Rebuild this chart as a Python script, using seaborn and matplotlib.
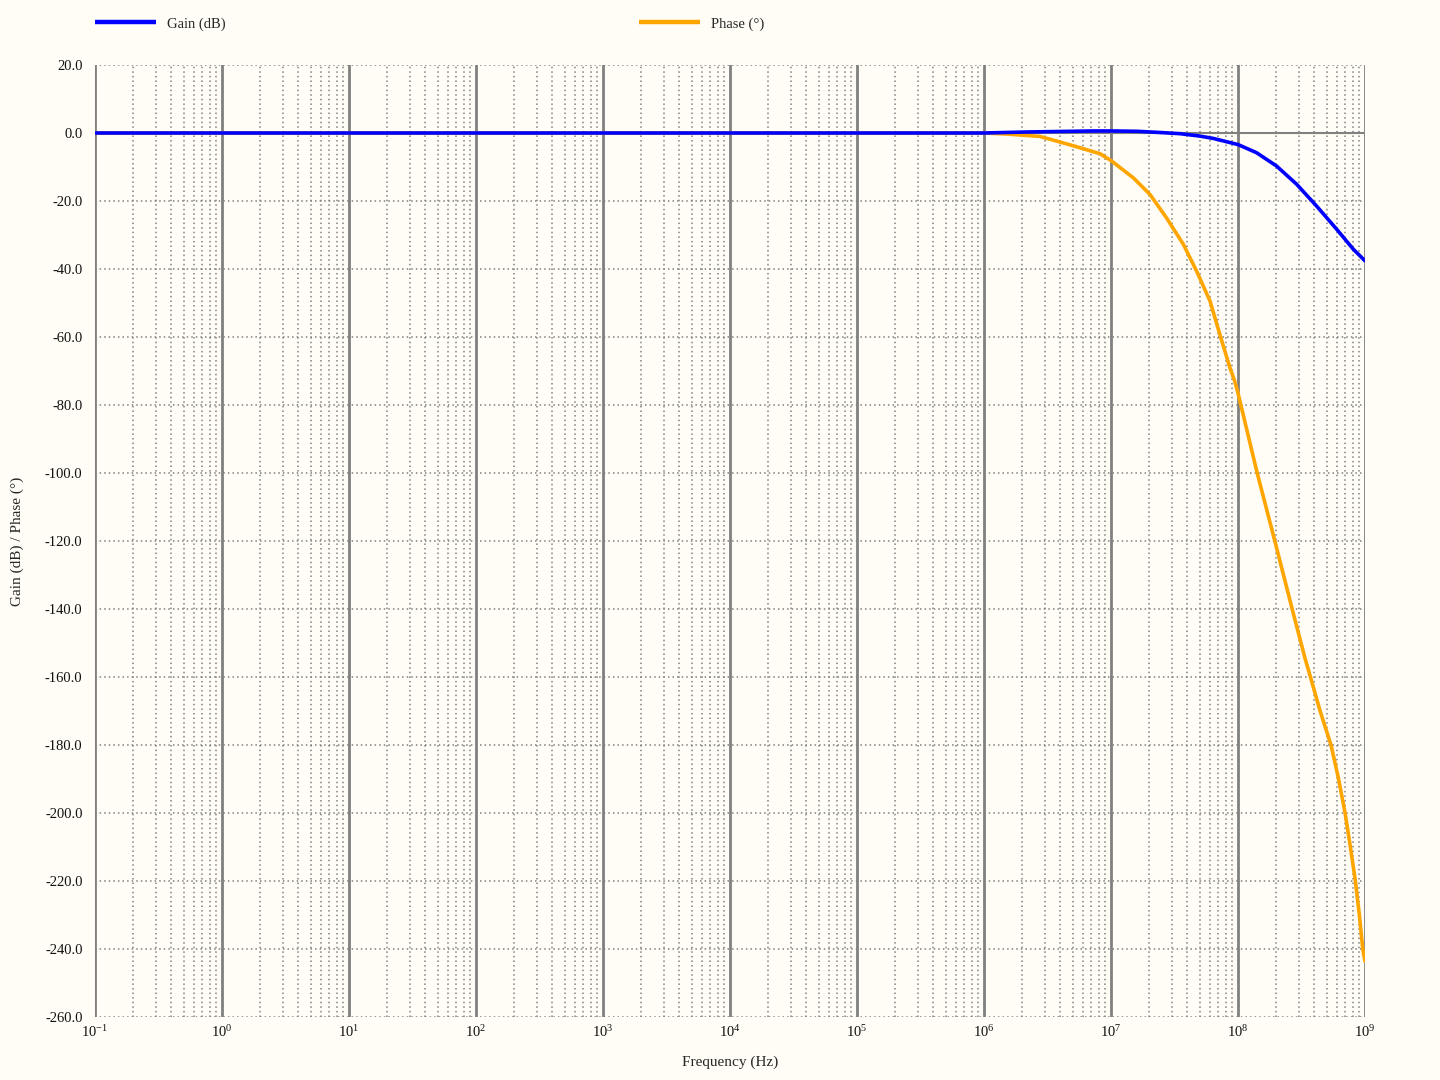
import numpy as np
import pandas as pd
import matplotlib
matplotlib.use("Agg")
import matplotlib.pyplot as plt
import seaborn as sns
from matplotlib.ticker import (LogLocator, LogFormatterSciNotation, FuncFormatter,
                               MultipleLocator, NullFormatter, FixedLocator)

# Data (frequency in Hz)
gain_freq = [0.1, 1e6, 2.2e6, 7.2e6, 1e7, 1.6e7, 2.3e7, 3.5e7, 5e7, 6.4e7,
             1e8, 1.4e8, 2.01e8, 2.9e8, 4.16e8, 5.98e8, 8.1e8, 1e9]
gain_db = [0.0, 0.0, 0.3, 0.6, 0.6, 0.5, 0.2, -0.2, -0.9, -1.6,
           -3.4, -5.8, -9.7, -15.1, -21.5, -28.3, -34.2, -37.6]

phase_freq = [0.1, 1e6, 1.5e6, 2.75e6, 5.1e6, 8.2e6, 1e7, 1.5e7, 2.03e7, 2.74e7,
              3.72e7, 4.73e7, 6.03e7, 7.2e7, 8.65e7, 9.42e7, 1e8, 1.416e8, 1.95e8,
              2.67e8, 3.37e8, 3.72e8, 4.43e8, 5.4e8, 6.17e8, 6.97e8, 7.62e8,
              8.4e8, 9.02e8, 9.6e8, 1e9]
phase_deg = [0.0, 0.0, -0.3, -1.0, -3.8, -6.1, -8.1, -13.2, -18.1, -25.0,
             -32.8, -40.7, -49.5, -59.3, -69.1, -73.0, -76.5, -100.0, -120.0,
             -140.0, -154.5, -160.0, -170.0, -180.0, -189.7, -200.0, -209.3,
             -220.0, -229.9, -240.0, -243.6]

decades = [0.1, 1, 10, 100, 1e3, 1e4, 1e5, 1e6, 1e7, 1e8, 1e9]
y_min, y_max = -260, 20

bg = "#fffdf6"
grid_col = "#808080"

sns.set_theme(style="white")
plt.rcParams["font.family"] = ["Liberation Serif", "DejaVu Serif"]
plt.rcParams["mathtext.fontset"] = "custom"
plt.rcParams["mathtext.rm"] = "Liberation Serif"
plt.rcParams["mathtext.it"] = "Liberation Serif:italic"

gain_df = pd.DataFrame({"Frequency": gain_freq, "Value": gain_db})
phase_df = pd.DataFrame({"Frequency": phase_freq, "Value": phase_deg})

fig = plt.figure(figsize=(14.4, 10.8), dpi=100, facecolor=bg)
ax = fig.add_axes([95 / 1440, 63 / 1080, 1270 / 1440, 952 / 1080])
ax.set_facecolor(bg)

# phase first so the gain line sits on top where they overlap
sns.lineplot(data=phase_df, x="Frequency", y="Value", ax=ax, color="#ffa500",
             linewidth=2.6, label="Phase (°)", estimator=None, zorder=4)
sns.lineplot(data=gain_df, x="Frequency", y="Value", ax=ax, color="#0000ff",
             linewidth=2.6, label="Gain (dB)", estimator=None, zorder=5)

ax.set_xscale("log")
ax.set_xlim(0.1, 1e9)
ax.set_ylim(y_min, y_max)

# grid
ax.xaxis.set_major_locator(FixedLocator(decades))
ax.xaxis.set_minor_locator(LogLocator(base=10, subs=np.arange(2, 10), numticks=200))
ax.xaxis.set_major_formatter(LogFormatterSciNotation())
ax.xaxis.set_minor_formatter(NullFormatter())
ax.yaxis.set_major_locator(MultipleLocator(20))
ax.yaxis.set_major_formatter(FuncFormatter(lambda v, p: f"{v:.1f}"))
ax.grid(which="major", axis="x", color=grid_col, linestyle="-", linewidth=2.0, zorder=1)
ax.grid(which="minor", axis="x", color=grid_col, linestyle=(0, (1, 2)), linewidth=1.1, zorder=1)
ax.grid(which="major", axis="y", color=grid_col, linestyle=(0, (1, 2)), linewidth=1.1, zorder=1)
ax.axhline(0, color=grid_col, linewidth=1.5, zorder=2)
ax.set_axisbelow(True)
for s in ax.spines.values():
    s.set_visible(False)

ax.tick_params(axis="both", which="both", length=0, labelsize=10.5, colors="#111111")
ax.tick_params(axis="y", pad=9)
ax.tick_params(axis="x", pad=5)

ax.set_xlabel("Frequency (Hz)", fontsize=11, labelpad=11)
ax.set_ylabel("Gain (dB) / Phase (°)", fontsize=11, labelpad=15)

handles, labels = ax.get_legend_handles_labels()
order = [1, 0]
leg = ax.legend([handles[i] for i in order], [labels[i] for i in order],
                loc="center left", bbox_to_anchor=(0, 1 + 41 / 952), ncol=2,
                frameon=False, handlelength=4.2, handletextpad=0.75,
                columnspacing=28.3, borderaxespad=0, borderpad=0, fontsize=10.5)
for line in leg.get_lines():
    line.set_linewidth(3.2)
    line.set_solid_capstyle("butt")

fig.savefig("out.png", dpi=100, facecolor=bg)
